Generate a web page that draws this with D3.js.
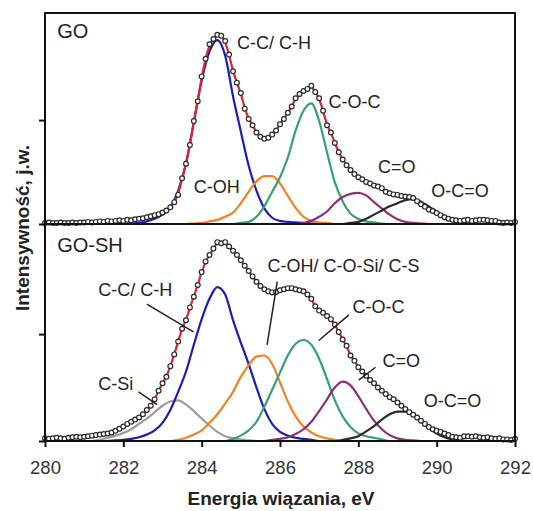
<!DOCTYPE html>
<html>
<head>
<meta charset="utf-8">
<script src="https://cdn.jsdelivr.net/npm/d3@7"></script>
<style>
  body { margin: 0; background: #fff; }
  text { font-family: "Liberation Sans", Arial, sans-serif; }
</style>
</head>
<body>
<svg id="chart" width="533" height="511"></svg>
<script>
// ---------- data (binding energy in eV, intensity in arbitrary units) ----------
const xTicks = [280, 282, 284, 286, 288, 290, 292];
const markerStart = 280, markerStep = 0.1;

// measured points, one every 0.1 eV from 280 to 292
const goMarkers = [
  0.01,0.015,0.01,0.01,0.015,0.01,0.01,0.015,0.01,0.015,
  0.015,0.02,0.015,0.02,0.025,0.02,0.03,0.025,0.03,0.035,
  0.03,0.04,0.035,0.045,0.05,0.055,0.065,0.075,0.085,0.095,
  0.11,0.13,0.16,0.21,0.28,0.44,0.58,0.76,0.99,1.18,
  1.42,1.59,1.73,1.78,1.82,1.81,1.76,1.63,1.47,1.36,
  1.26,1.11,1.01,0.95,0.88,0.84,0.82,0.83,0.86,0.90,
  0.96,1.01,1.07,1.13,1.21,1.25,1.28,1.30,1.33,1.27,
  1.21,1.09,0.95,0.88,0.78,0.69,0.62,0.565,0.52,0.48,
  0.45,0.43,0.405,0.39,0.37,0.36,0.345,0.31,0.295,0.285,
  0.28,0.27,0.265,0.26,0.25,0.22,0.19,0.165,0.14,0.125,
  0.105,0.085,0.065,0.05,0.04,0.035,0.03,0.035,0.04,0.03,
  0.035,0.04,0.04,0.035,0.03,0.03,0.015,0.01,0.015,0.01,
  0.02
];
const goshMarkers = [
  0.025,0.02,0.025,0.03,0.025,0.02,0.03,0.035,0.04,0.035,
  0.04,0.045,0.05,0.055,0.06,0.065,0.07,0.08,0.095,0.115,
  0.135,0.16,0.18,0.2,0.22,0.25,0.29,0.33,0.39,0.47,
  0.54,0.6,0.7,0.81,0.93,1.05,1.13,1.25,1.35,1.46,
  1.58,1.68,1.74,1.8,1.86,1.85,1.86,1.82,1.78,1.74,
  1.69,1.64,1.59,1.54,1.49,1.45,1.42,1.4,1.39,1.395,
  1.41,1.42,1.43,1.43,1.42,1.41,1.4,1.37,1.33,1.26,
  1.22,1.2,1.17,1.14,1.09,1.02,0.95,0.89,0.8,0.75,
  0.69,0.65,0.61,0.57,0.54,0.5,0.47,0.44,0.41,0.39,
  0.36,0.33,0.3,0.27,0.245,0.22,0.19,0.16,0.13,0.11,
  0.095,0.085,0.07,0.055,0.04,0.035,0.03,0.045,0.045,0.04,
  0.045,0.035,0.03,0.035,0.025,0.02,0.025,0.015,0.015,0.01,
  0.02
];

// fitted components, one value every 0.2 eV from the given start energy
const compStep = 0.2;
const goCC   = [0,0.005,0.01,0.025,0.05,0.09,0.16,0.32,0.58,0.98,1.38,1.66,1.77,1.62,1.23,0.89,0.56,0.32,0.15,0.06,0.03,0.02,0.015,0.01,0.005,0];
const goCOH  = [0,0.005,0.01,0.025,0.04,0.07,0.11,0.2,0.31,0.41,0.46,0.46,0.39,0.27,0.155,0.07,0.03,0.015,0.01,0];
const goCOC  = [0,0.01,0.02,0.07,0.17,0.31,0.45,0.64,0.9,1.09,1.16,0.99,0.69,0.4,0.22,0.1,0.05,0.025,0.015,0.005,0];
const goCO   = [0,0.01,0.03,0.07,0.12,0.2,0.26,0.29,0.3,0.275,0.21,0.15,0.09,0.045,0.02,0.01,0.005,0];
const goOCO  = [0,0.01,0.02,0.05,0.09,0.13,0.17,0.2,0.23,0.24,0.215,0.17,0.12,0.07,0.03,0.015,0.005,0];
const goStarts = [282.0, 283.6, 284.8, 286.4, 287.6];

const goshCSi = [0,0.01,0.03,0.05,0.075,0.11,0.16,0.21,0.27,0.33,0.37,0.38,0.34,0.28,0.21,0.145,0.085,0.045,0.025,0.015,0.005,0];
const goshCC  = [0,0.005,0.01,0.02,0.035,0.06,0.1,0.17,0.29,0.46,0.65,0.9,1.14,1.33,1.44,1.37,1.13,0.92,0.72,0.5,0.3,0.16,0.085,0.05,0.03,0.02,0.01,0];
const goshCOH = [0,0.01,0.03,0.06,0.1,0.17,0.25,0.35,0.46,0.6,0.71,0.79,0.8,0.72,0.55,0.37,0.23,0.135,0.08,0.045,0.025,0.01,0];
const goshCOC = [0,0.02,0.05,0.1,0.18,0.32,0.48,0.64,0.8,0.91,0.945,0.9,0.77,0.58,0.38,0.23,0.13,0.07,0.045,0.03,0.015,0];
const goshCO  = [0,0.01,0.02,0.035,0.065,0.11,0.18,0.28,0.39,0.5,0.555,0.52,0.42,0.3,0.19,0.11,0.055,0.025,0.01,0.005,0];
const goshOCO = [0,0.01,0.025,0.045,0.09,0.14,0.2,0.25,0.275,0.275,0.24,0.18,0.12,0.07,0.035,0.015,0.005,0];
const goshStarts = [281.2, 281.6, 283.2, 284.6, 285.6, 287.4];

// ---------- layout ----------
const svg = d3.select("#chart");
const left = 45, right = 515;
const x = d3.scaleLinear().domain([280, 292]).range([left, right]);

const colors = {
  cc: "#1d1db0", coh: "#f08226", coc: "#35a078", co: "#8c2f72",
  oco: "#2b2b2b", csi: "#9c9c9c", fit: "#e3222b"
};

const panels = [
  {
    title: "GO", top: 13, bottom: 224, markers: goMarkers,
    comps: [
      {vals: goCC, start: goStarts[0], color: colors.cc},
      {vals: goCOH, start: goStarts[1], color: colors.coh},
      {vals: goCOC, start: goStarts[2], color: colors.coc},
      {vals: goCO, start: goStarts[3], color: colors.co},
      {vals: goOCO, start: goStarts[4], color: colors.oco}
    ],
    labels: [
      ["GO", 280.31, 1.79, 20], ["C-C/ C-H", 284.9, 1.68, 18], ["C-OH", 283.8, 0.30, 18],
      ["C-O-C", 287.24, 1.115, 18], ["C=O", 288.5, 0.49, 18], ["O-C=O", 289.86, 0.26, 18]
    ],
    leaders: []
  },
  {
    title: "GO-SH", top: 224, bottom: 441, markers: goshMarkers,
    comps: [
      {vals: goshCSi, start: goshStarts[0], color: colors.csi},
      {vals: goshCC, start: goshStarts[1], color: colors.cc},
      {vals: goshCOH, start: goshStarts[2], color: colors.coh},
      {vals: goshCOC, start: goshStarts[3], color: colors.coc},
      {vals: goshCO, start: goshStarts[4], color: colors.co},
      {vals: goshOCO, start: goshStarts[5], color: colors.oco}
    ],
    labels: [
      ["GO-SH", 280.31, 1.77, 20], ["C-C/ C-H", 281.36, 1.36, 18], ["C-Si", 281.36, 0.48, 18],
      ["C-OH/ C-O-Si/ C-S", 285.68, 1.58, 18], ["C-O-C", 287.85, 1.2, 18],
      ["C=O", 288.62, 0.69, 18], ["O-C=O", 289.67, 0.32, 18]
    ],
    leaders: [
      [282.6, 1.28, 283.79, 1.02], [282.39, 0.46, 282.86, 0.34],
      [285.93, 1.49, 285.67, 0.9], [287.76, 1.18, 286.99, 0.94],
      [288.44, 0.69, 288.01, 0.57]
    ]
  }
];

panels.forEach(p => {
  const y = d3.scaleLinear().domain([0, 2.03]).range([p.bottom, p.top]);
  const g = svg.append("g");

  const line = d3.line()
                 .x(d => x(d[0]))
                 .y(d => y(d[1]))
                 .curve(d3.curveMonotoneX);

  // components, flat at zero outside their range
  p.comps.forEach(c => {
    const pts = c.vals.map((v, i) => [c.start + i * compStep, v]);
    pts.unshift([280, 0]);
    pts.push([292, 0]);
    g.append("path")
     .attr("d", line(pts))
     .attr("fill", "none")
     .attr("stroke", c.color)
     .attr("stroke-width", 2.2);
  });

  // fit envelope through the measured points
  const mpts = p.markers.map((v, i) => [markerStart + i * markerStep, v]);
  g.append("path")
   .attr("d", d3.line().x(d => x(d[0])).y(d => y(d[1])).curve(d3.curveBasis)(mpts))
   .attr("fill", "none")
   .attr("stroke", colors.fit)
   .attr("stroke-width", 2.2);

  // measured points
  g.selectAll("circle")
   .data(mpts)
   .enter()
   .append("circle")
      .attr("cx", d => x(d[0]))
      .attr("cy", d => y(d[1]))
      .attr("r", 2.4)
      .attr("fill", "#fff")
      .attr("stroke", "#2a2a2a")
      .attr("stroke-width", 1.2);

  // leader lines
  g.selectAll("line.leader")
   .data(p.leaders)
   .enter()
   .append("line")
      .attr("class", "leader")
      .attr("x1", d => x(d[0])).attr("y1", d => y(d[1]))
      .attr("x2", d => x(d[2])).attr("y2", d => y(d[3]))
      .attr("stroke", "#222")
      .attr("stroke-width", 1.5);

  // labels
  g.selectAll("text.lbl")
   .data(p.labels)
   .enter()
   .append("text")
      .attr("class", "lbl")
      .attr("x", d => x(d[1]))
      .attr("y", d => y(d[2]))
      .attr("font-size", d => d[3])
      .attr("fill", "#222")
      .text(d => d[0]);

  // frame
  g.append("rect")
   .attr("x", left).attr("y", p.top)
   .attr("width", right - left).attr("height", p.bottom - p.top)
   .attr("fill", "none")
   .attr("stroke", "#111")
   .attr("stroke-width", 2);

  // y ticks (no labels)
  const yAxis = d3.axisLeft(y).tickValues([0, 1]).tickSize(6).tickFormat("");
  g.append("g")
   .attr("transform", `translate(${left},0)`)
   .call(yAxis)
   .call(a => a.select(".domain").remove())
   .call(a => a.selectAll("line").attr("stroke", "#111").attr("stroke-width", 2));
});

// x axis
const xAxis = d3.axisBottom(x).tickValues(xTicks).tickSize(6).tickPadding(14).tickFormat(d3.format("d"));
svg.append("g")
   .attr("transform", "translate(0,441)")
   .call(xAxis)
   .call(a => a.select(".domain").remove())
   .call(a => a.selectAll("line").attr("stroke", "#111").attr("stroke-width", 2))
   .call(a => a.selectAll("text")
               .attr("font-size", 18.5)
               .attr("font-family", "'Liberation Sans', Arial, sans-serif")
               .attr("fill", "#333"));

// axis titles
svg.append("text")
   .attr("x", 281)
   .attr("y", 505)
   .attr("text-anchor", "middle")
   .attr("font-size", 19)
   .attr("font-weight", "bold")
   .attr("fill", "#222")
   .text("Energia wiązania, eV");

svg.append("text")
   .attr("transform", "translate(29,228) rotate(-90)")
   .attr("text-anchor", "middle")
   .attr("font-size", 19)
   .attr("font-weight", "bold")
   .attr("fill", "#222")
   .text("Intensywność, j.w.");
</script>
</body>
</html>
